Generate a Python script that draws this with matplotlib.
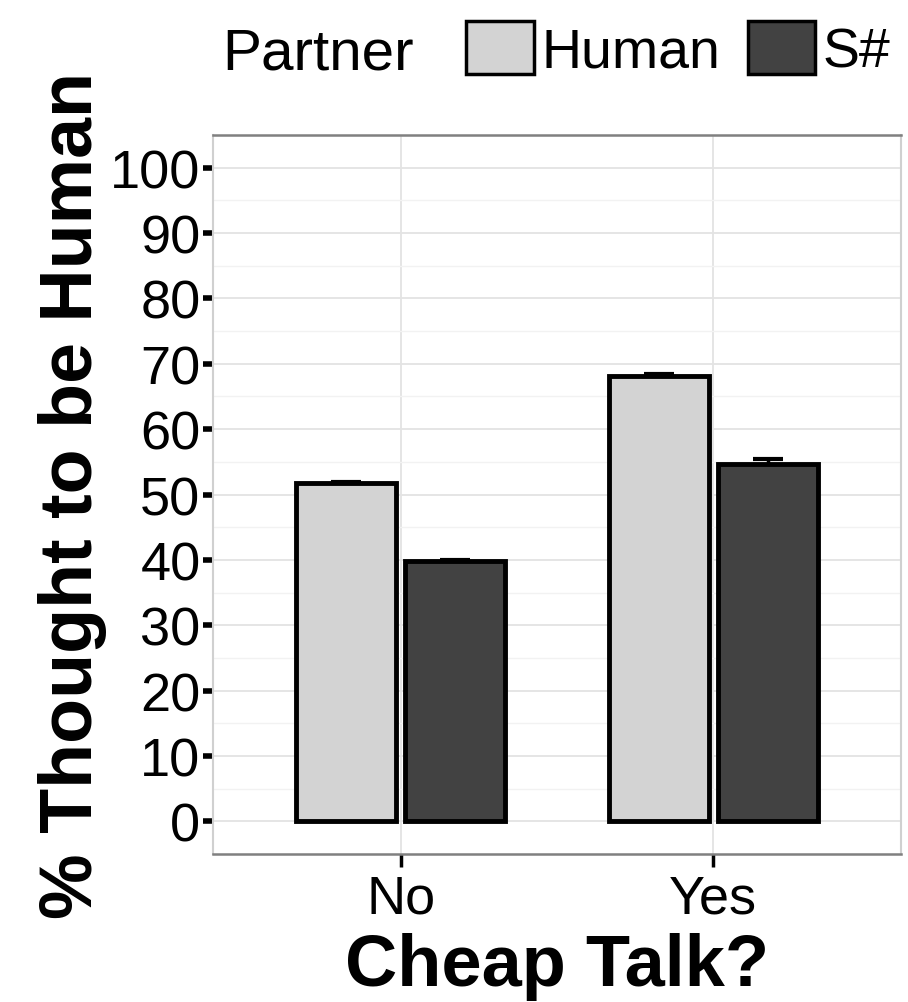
import numpy as np
import matplotlib
matplotlib.use('Agg')
import matplotlib.pyplot as plt
from matplotlib.patches import Patch
from matplotlib.ticker import MultipleLocator

# Datos
categorias = ['No', 'Yes']
partner = ['Human', 'S#']
human_vals = [51.7, 68.2]
sharp_vals = [39.8, 54.6]
human_err = [0.2, 0.2]
sharp_err = [0.2, 0.8]

colores = {'Human': '#d3d3d3', 'S#': '#424242'}

plt.rcParams['font.family'] = ['Liberation Sans', 'DejaVu Sans']

fig = plt.figure(figsize=(9.08, 10.03), dpi=100)
ax = fig.add_axes([213/908, 1 - 855/1003, (901-213)/908, (855-136)/1003])

x = np.arange(1, len(categorias) + 1)
ancho = 0.32
desp = 0.174

# Barras de error debajo de las barras (solo se ve la parte de arriba)
ax.errorbar(x - desp, human_vals, yerr=human_err, fmt='none', ecolor='black', elinewidth=2.5, capsize=11, capthick=3, zorder=2)
ax.errorbar(x + desp, sharp_vals, yerr=sharp_err, fmt='none', ecolor='black', elinewidth=2.5, capsize=11, capthick=3, zorder=2)
ax.bar(x - desp, human_vals, width=ancho, color=colores['Human'], edgecolor='black', linewidth=3.5, zorder=3)
ax.bar(x + desp, sharp_vals, width=ancho, color=colores['S#'], edgecolor='black', linewidth=3.5, zorder=3)

ax.set_xlim(0.4, 2.6)
ax.set_ylim(-5, 105)
ax.set_xticks(x)
ax.set_xticklabels(categorias)
ax.yaxis.set_minor_locator(MultipleLocator(5))
ax.set_yticks(np.arange(0, 101, 10))

ax.grid(which='major', color='#e3e3e3', linewidth=1.3, zorder=0)
ax.grid(which='minor', axis='y', color='#f2f2f2', linewidth=1.0, zorder=0)
ax.set_axisbelow(True)

ax.tick_params(axis='y', which='major', length=7, width=4, color='black', labelsize=39, pad=2)
ax.tick_params(axis='y', which='minor', length=0)
ax.tick_params(axis='x', which='major', length=9, width=2.5, color='black', labelsize=39, pad=5)

for lado in ['top', 'bottom']:
    ax.spines[lado].set_color('#808080')
    ax.spines[lado].set_linewidth(1.8)
for lado in ['left', 'right']:
    ax.spines[lado].set_color('#d0d0d0')
    ax.spines[lado].set_linewidth(1.5)

ax.set_xlabel('Cheap Talk?', fontsize=52, fontweight='bold', labelpad=6)
ax.set_ylabel('% Thought to be Human', fontsize=53, fontweight='bold', labelpad=2)

# Leyenda arriba
fig.text(222/908, 1 - 69/1003, 'Partner', fontsize=42, va='baseline', ha='left')
manijas = [Patch(facecolor=colores[p], edgecolor='black', linewidth=2.5) for p in partner]
fig.legend(manijas, partner, loc='center left', bbox_to_anchor=(466/908, 1 - 51/1003), ncol=2, frameon=False,
           fontsize=40, handlelength=1.22, handleheight=1.08,
           handletextpad=0.13, columnspacing=0.5, borderpad=0, borderaxespad=0)

fig.savefig('out.png', dpi=100)
